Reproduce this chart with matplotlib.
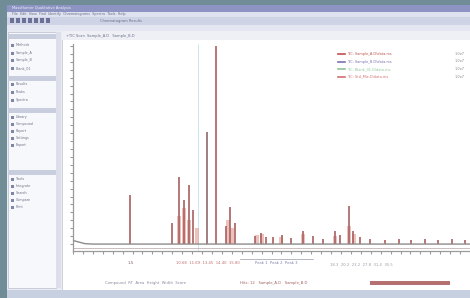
import matplotlib
matplotlib.use("Agg")
import matplotlib.pyplot as plt
from matplotlib.patches import Rectangle

# ---------------- data ----------------
# retention time (min) and relative abundance (%) of the main trace peaks
main_rt = [5.75, 9.95, 10.7, 11.2, 11.7, 12.1, 13.5, 14.4, 15.4, 15.8, 16.3,
           18.3, 18.9, 19.4, 20.2, 21.1, 22.0, 23.2, 24.2, 25.2, 26.4, 26.9,
           27.8, 28.2, 28.9, 29.9, 31.4, 32.8, 34.1, 35.5, 36.8, 38.2, 39.5]
main_ab = [24.6, 10.8, 33.8, 22.0, 29.7, 17.0, 56.4, 100.0, 9.0, 18.5, 10.8,
           4.0, 5.6, 3.6, 3.6, 4.6, 3.0, 6.7, 4.0, 2.6, 6.7, 4.6,
           19.0, 6.7, 3.6, 2.6, 2.2, 2.6, 2.0, 2.6, 2.2, 2.6, 2.0]
# overlaid (second sample) trace, broader peaks
over_rt = [10.7, 11.2, 11.7, 12.5, 15.6, 16.0, 18.5, 19.0, 21.0, 23.2, 26.4, 27.8, 28.3]
over_ab = [14.0, 18.0, 12.0, 8.0, 12.0, 8.0, 4.5, 5.0, 3.5, 5.0, 4.0, 9.0, 5.0]
# baseline trace
base_rt = [0.0, 0.6, 1.2, 2.0, 40.0]
base_ab = [1.8, 1.0, 0.2, 0.0, 0.0]
# legend rows (trace names)
legend_names = ["TIC: Sample_A.D\\data.ms", "TIC: Sample_B.D\\data.ms",
                "TIC: Blank_01.D\\data.ms", "TIC: Std_Mix.D\\data.ms"]
legend_colors = ["#c0504d", "#7b6fb0", "#8fc49a", "#d07070"]
nav_items = ["Methods", "Sample_A", "Sample_B", "Blank_01",
             "Results", "Peaks", "Spectra",
             "Library", "Compound", "Report", "Settings", "Export",
             "Tools", "Integrate", "Search", "Compare", "Print"]

W, H = 470, 298
fig = plt.figure(figsize=(W / 100, H / 100), dpi=100)
fig.patch.set_facecolor("#6f8c97")

# chrome axes in pixel coordinates
bg = fig.add_axes([0, 0, 1, 1])
bg.set_xlim(0, W)
bg.set_ylim(H, 0)
bg.axis("off")

def box(x, y, w, h, fc, ec="none", lw=0.5):
    bg.add_patch(Rectangle((x, y), w, h, facecolor=fc, edgecolor=ec, lw=lw))

# window
box(7, 5, 463, 293, "#e9ecf3")
box(7, 5, 463, 7, "#8d93c2")
box(7, 12, 463, 5, "#dfe2ef")
box(7, 17, 463, 8, "#cfd3e6")
box(7, 25, 463, 6, "#e4e7f1")
for i in range(7):
    box(10 + i * 6, 18, 4, 5, "#6a7096")
bg.text(12, 8.5, "MassHunter Qualitative Analysis", fontsize=2.6, color="#f2f2fa", va="center")
bg.text(12, 14.5, "File  Edit  View  Find  Identify  Chromatograms  Spectra  Tools  Help",
        fontsize=2.4, color="#6a6f88", va="center")
bg.text(100, 21, "Chromatogram Results", fontsize=2.6, color="#6a6f88", va="center")

# left navigator panel
box(8, 32, 48, 256, "#f7f8fb", ec="#b8bccb")
hdr_y = [34, 76, 108, 170]
for y in hdr_y:
    box(8, y, 48, 5, "#c9cede")
item_y = [45, 53, 60, 68, 84, 92, 100, 117, 124, 131, 138, 145, 179, 186, 193, 200, 207]
for y, name in zip(item_y, nav_items):
    box(11, y - 1.5, 3, 3, "#7c86a8")
    bg.text(16, y, name, fontsize=2.4, color="#707488", va="center")
box(56, 32, 5, 256, "#dcdfe9")
box(62, 31, 408, 259, "#ffffff", ec="#c0c4d2")
box(62, 31, 408, 9, "#eef0f6")
bg.text(66, 35.5, "+TIC Scan  Sample_A.D   Sample_B.D", fontsize=2.6, color="#6a6f88", va="center")

# status bar
box(7, 290, 463, 8, "#c7d0e0")

# ---------------- chart ----------------
ax = fig.add_axes([73 / W, (H - 251) / H, (W - 73) / W, (251 - 44) / H])
ax.set_xlim(0, 40)
ax.set_ylim(-3.5, 101)
ax.set_facecolor("none")

ax.bar(over_rt, over_ab, width=0.4, color="#e8a9a0", alpha=0.7, zorder=2)
ax.vlines(main_rt, 0, main_ab, color="#a86060", lw=1.2, zorder=3)
ax.vlines([13.45], 0, [56.4], color="#8a8a8a", lw=0.7, zorder=3)
ax.vlines([12.6], -3.5, 101, color="#bfe3e8", lw=0.6, zorder=1)
ax.plot(base_rt, base_ab, color="#8c8c8c", lw=1.0, zorder=4)
ax.axhline(-1.8, color="#c3b3b3", lw=0.6, zorder=1)

for s in ["top", "right"]:
    ax.spines[s].set_visible(False)
ax.spines["left"].set_color("#9a9a9a")
ax.spines["bottom"].set_color("#9a9a9a")
ax.spines["left"].set_linewidth(0.9)
ax.spines["bottom"].set_linewidth(0.9)
ax.set_xticks(range(0, 41, 1))
ax.set_yticks(range(0, 101, 4))
ax.tick_params(axis="both", length=2.2, width=0.8, color="#9a9a9a",
               labelleft=False, labelbottom=False)

# legend block
for i, (name, c) in enumerate(zip(legend_names, legend_colors)):
    yy = 54 + i * 7.5
    bg.plot([338, 345], [yy, yy], color=c, lw=1.2)
    bg.text(347, yy, name, fontsize=2.5, color=c, va="center")
    bg.text(455, yy, "1.0e7", fontsize=2.5, color="#8a8a8a", va="center")

# annotations under the axis
bg.plot([240, 313], [258.5, 258.5], color="#9a9aa8", lw=0.5)
bg.text(128, 263, "1.5", fontsize=3, color="#8a6060", va="center")
bg.text(176, 263, "10.68  11.69  13.45  14.40  15.80", fontsize=2.7, color="#c06a6a", va="center")
bg.text(255, 263, "Peak 1  Peak 2  Peak 3", fontsize=2.7, color="#7c7cb0", va="center")
bg.text(330, 265, "18.3  20.2  23.2  27.8  31.4  35.5", fontsize=2.7, color="#9a9aa8", va="center")
bg.text(105, 283, "Compound  RT  Area  Height  Width  Score", fontsize=2.7, color="#8a8aa0", va="center")
bg.text(240, 283, "Hits: 12   Sample_A.D   Sample_B.D", fontsize=2.7, color="#a06060", va="center")
bg.add_patch(Rectangle((370, 281), 80, 4, facecolor="#b77070", edgecolor="none"))

fig.savefig("out.png", dpi=100, facecolor=fig.get_facecolor())
